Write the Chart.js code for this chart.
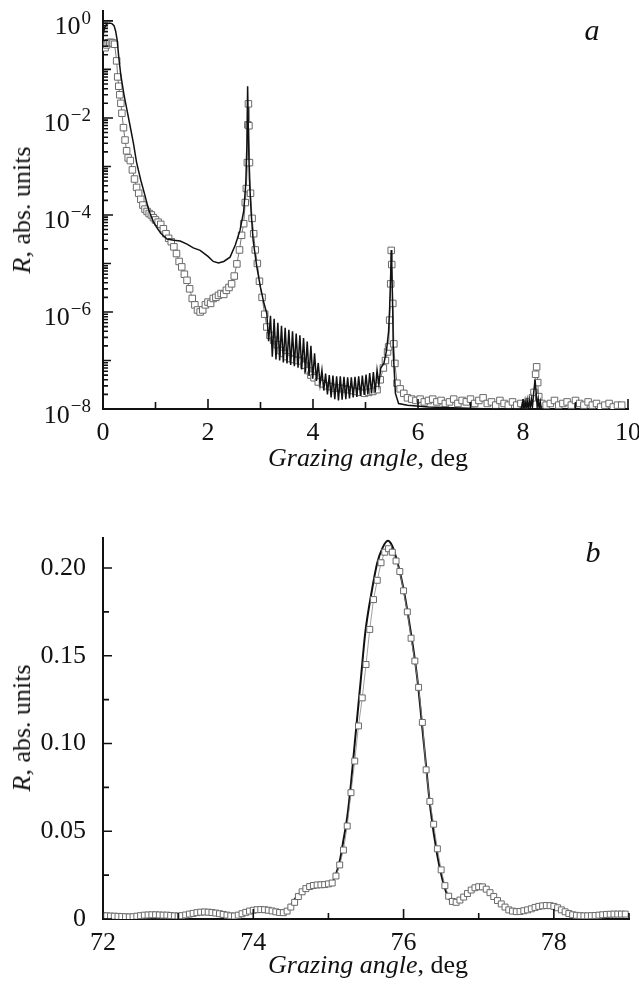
<!DOCTYPE html>
<html>
<head>
<meta charset="utf-8">
<script src="https://cdn.jsdelivr.net/npm/chart.js@4.4.0/dist/chart.umd.min.js"></script>
<style>
  html, body { margin: 0; padding: 0; background: #fff; }
  body { width: 639px; height: 984px; position: relative; overflow: hidden;
         font-family: "Liberation Serif", "DejaVu Serif", serif; color: #111; }
  canvas { position: absolute; left: 0; }
  #chartA { top: 0; }
  #chartB { top: 500px; }
  .xt { position: absolute; left: 268px; font-size: 26px; line-height: 26px; white-space: nowrap; }
  .yt { position: absolute; font-size: 26px; line-height: 26px; white-space: nowrap;
        transform: translate(-50%, -50%) rotate(-90deg); }
  .tag { position: absolute; font-size: 30px; line-height: 30px; font-style: italic;
         transform: translate(-50%, -50%); }
</style>
</head>
<body>
<canvas id="chartA" width="639" height="480"></canvas>
<canvas id="chartB" width="639" height="484"></canvas>

<div class="yt" style="left:22px; top:210px;"><i>R</i>, abs. units</div>
<div class="xt" style="top:445px;"><i>Grazing angle</i>, deg</div>
<div class="tag" style="left:592px; top:30px;">a</div>

<div class="yt" style="left:22px; top:728px;"><i>R</i>, abs. units</div>
<div class="xt" style="top:952px;"><i>Grazing angle</i>, deg</div>
<div class="tag" style="left:593px; top:552px;">b</div>

<script>
// ─── Panel a: experiment (squares) ───
const expAAngle = [
  0.04, 0.07, 0.10, 0.13, 0.16, 0.19, 0.22, 0.26, 0.28, 0.30,
  0.32, 0.34, 0.36, 0.39, 0.42, 0.45, 0.48, 0.52, 0.56, 0.60,
  0.64, 0.68, 0.72, 0.76, 0.80, 0.84, 0.88, 0.92, 0.96, 1.00,
  1.05, 1.10, 1.15, 1.20, 1.25, 1.30, 1.35, 1.40, 1.45, 1.50,
  1.55, 1.60, 1.65, 1.70, 1.75, 1.80, 1.85, 1.90, 1.95, 2.00,
  2.05, 2.10, 2.15, 2.20, 2.25, 2.30, 2.35, 2.40, 2.45, 2.50,
  2.55, 2.60, 2.64, 2.68, 2.71, 2.73, 2.75, 2.76, 2.77, 2.78,
  2.79, 2.81, 2.84, 2.87, 2.90, 2.94, 2.98, 3.03, 3.08, 3.12,
  3.18, 3.25, 3.32, 3.38, 3.44, 3.50, 3.56, 3.62, 3.69, 3.76,
  3.83, 3.90, 3.96, 4.02, 4.10, 4.18, 4.26, 4.34, 4.42, 4.50,
  4.58, 4.66, 4.74, 4.82, 4.90, 4.98, 5.06, 5.14, 5.22, 5.28,
  5.34, 5.38, 5.42, 5.44, 5.46, 5.48, 5.49, 5.50, 5.52, 5.54,
  5.56, 5.60, 5.66, 5.73, 5.80, 5.88, 5.96, 6.04, 6.12, 6.20,
  6.28, 6.36, 6.44, 6.52, 6.60, 6.68, 6.76, 6.84, 6.92, 7.00,
  7.08, 7.16, 7.24, 7.32, 7.40, 7.48, 7.56, 7.64, 7.72, 7.80,
  7.88, 7.96, 8.04, 8.12, 8.18, 8.21, 8.24, 8.26, 8.28, 8.30,
  8.36, 8.44, 8.52, 8.60, 8.68, 8.76, 8.84, 8.92, 9.00, 9.08,
  9.16, 9.24, 9.32, 9.40, 9.48, 9.56, 9.64, 9.72, 9.80, 9.88
];
const expAR = [
  0.28, 0.32, 0.35, 0.36, 0.36, 0.35, 0.33, 0.15, 0.07, 0.045,
  0.03, 0.02, 0.0125, 0.0063, 0.0035, 0.0021, 0.0015, 0.00132, 0.00085, 0.00055,
  3.7e-4, 2.8e-4, 2.1e-4, 1.6e-4, 1.32e-4, 1.18e-4, 1.07e-4, 1.0e-4, 8.8e-5, 7.9e-5,
  7.1e-5, 6.4e-5, 5.2e-5, 4.1e-5, 3.3e-5, 2.8e-5, 2.2e-5, 1.6e-5, 1.1e-5, 8.5e-6,
  6.0e-6, 4.5e-6, 3.0e-6, 1.9e-6, 1.4e-6, 1.1e-6, 1.0e-6, 1.1e-6, 1.4e-6, 1.6e-6,
  1.5e-6, 1.9e-6, 2.0e-6, 2.2e-6, 2.4e-6, 2.3e-6, 2.8e-6, 3.2e-6, 3.8e-6, 5.5e-6,
  9.8e-6, 1.9e-5, 3.8e-5, 6.6e-5, 1.8e-4, 3.5e-4, 1.2e-3, 7.2e-3, 1.95e-2, 6.9e-3,
  1.2e-3, 2.8e-4, 8.5e-5, 4.1e-5, 1.9e-5, 1.0e-5, 4.3e-6, 2.0e-6, 9.0e-7, 4.9e-7,
  3.3e-7, 2.6e-7, 2.1e-7, 1.6e-7, 1.4e-7, 1.2e-7, 1.1e-7, 1.05e-7, 1.0e-7, 9.8e-8,
  8.0e-8, 6.2e-8, 5.0e-8, 4.4e-8, 3.6e-8, 3.3e-8, 3.0e-8, 2.9e-8, 2.7e-8, 2.7e-8,
  2.6e-8, 2.5e-8, 2.4e-8, 2.3e-8, 2.2e-8, 2.1e-8, 2.2e-8, 2.3e-8, 2.5e-8, 4.0e-8,
  7.0e-8, 1.0e-7, 1.5e-7, 1.9e-7, 6.8e-7, 3.8e-6, 1.86e-5, 9.5e-6, 1.5e-6, 2.2e-7,
  8.7e-8, 3.4e-8, 2.6e-8, 2.1e-8, 1.7e-8, 1.6e-8, 1.5e-8, 1.6e-8, 1.4e-8, 1.5e-8,
  1.6e-8, 1.4e-8, 1.5e-8, 1.3e-8, 1.4e-8, 1.6e-8, 1.3e-8, 1.5e-8, 1.4e-8, 1.6e-8,
  1.3e-8, 1.5e-8, 1.7e-8, 1.3e-8, 1.4e-8, 1.2e-8, 1.5e-8, 1.3e-8, 1.2e-8, 1.4e-8,
  1.2e-8, 1.3e-8, 1.2e-8, 1.4e-8, 1.7e-8, 2.2e-8, 5.2e-8, 7.4e-8, 3.5e-8, 1.8e-8,
  1.3e-8, 1.2e-8, 1.3e-8, 1.5e-8, 1.2e-8, 1.3e-8, 1.4e-8, 1.2e-8, 1.5e-8, 1.3e-8,
  1.2e-8, 1.4e-8, 1.2e-8, 1.3e-8, 1.1e-8, 1.2e-8, 1.3e-8, 1.1e-8, 1.2e-8, 1.2e-8
];

// ─── Panel a: calculation (solid line) ───
const thAAngle = [
  0.00, 0.03, 0.07, 0.12, 0.17, 0.21, 0.24, 0.27, 0.30, 0.34,
  0.40, 0.46, 0.52, 0.58, 0.64, 0.72, 0.80, 0.86, 0.90, 0.96,
  1.02, 1.10, 1.22, 1.35, 1.47, 1.60, 1.72, 1.85, 2.00, 2.10,
  2.20, 2.30, 2.42, 2.52, 2.61, 2.68, 2.72, 2.74, 2.755, 2.77,
  2.79, 2.82, 2.86, 2.93, 3.00, 3.06,
  3.120, 3.155, 3.190, 3.225, 3.260, 3.295, 3.330, 3.365, 3.400, 3.435,
  3.470, 3.505, 3.540, 3.575, 3.610, 3.645, 3.680, 3.715, 3.750, 3.785,
  3.820, 3.855, 3.890, 3.925, 3.960, 3.995, 4.030, 4.065, 4.100, 4.135,
  4.170, 4.205, 4.240, 4.275, 4.310, 4.345, 4.380, 4.415, 4.450, 4.485,
  4.520, 4.555, 4.590, 4.625, 4.660, 4.695, 4.730, 4.765, 4.800, 4.835,
  4.870, 4.905, 4.940, 4.975, 5.010, 5.045, 5.080, 5.115, 5.150, 5.185,
  5.220, 5.255,
  5.29, 5.35, 5.40, 5.44, 5.46, 5.48, 5.49, 5.50, 5.52, 5.53,
  5.57, 5.63, 5.80, 6.20, 6.80, 7.40, 7.96,
  8.00, 8.02, 8.04, 8.06, 8.08, 8.10, 8.12, 8.14, 8.16, 8.18,
  8.20, 8.23, 8.25, 8.27, 8.29, 8.31, 8.33, 8.35,
  8.40, 9.00, 10.00
];
const thAR = [
  0.50, 0.72, 0.86, 0.90, 0.88, 0.80, 0.62, 0.40, 0.18, 0.075,
  0.030, 0.014, 0.0065, 0.0030, 0.0012, 5.2e-4, 2.5e-4, 1.4e-4, 1.05e-4, 7.2e-5,
  5.6e-5, 4.2e-5, 3.2e-5, 3.0e-5, 2.9e-5, 2.5e-5, 2.1e-5, 1.86e-5, 1.4e-5, 1.1e-5,
  1.02e-5, 1.1e-5, 1.35e-5, 2.4e-5, 4.8e-5, 1.2e-4, 4.5e-4, 2.5e-3, 4.5e-2, 4.0e-3,
  5.5e-4, 1.2e-4, 3.0e-5, 8.5e-6, 3.2e-6, 1.6e-6,
  9.3e-7, 2.5e-7, 8.3e-7, 1.2e-7, 7.2e-7, 1.05e-7, 6.0e-7, 1.0e-7, 5.2e-7, 9.1e-8,
  4.7e-7, 8.7e-8, 4.3e-7, 8.1e-8, 4.0e-7, 7.6e-8, 3.6e-7, 7.1e-8, 3.3e-7, 6.5e-8,
  2.9e-7, 5.6e-8, 2.45e-7, 4.8e-8, 2.0e-7, 4.2e-8, 1.4e-7, 3.8e-8, 8.9e-8, 3.2e-8,
  6.3e-8, 2.4e-8, 5.4e-8, 2.0e-8, 5.0e-8, 1.74e-8, 4.9e-8, 1.6e-8, 4.7e-8, 1.5e-8,
  4.7e-8, 1.55e-8, 4.6e-8, 1.6e-8, 4.5e-8, 1.66e-8, 4.5e-8, 1.74e-8, 4.6e-8, 1.78e-8,
  4.7e-8, 1.86e-8, 4.9e-8, 1.95e-8, 5.1e-8, 2.0e-8, 5.5e-8, 2.1e-8, 5.8e-8, 2.2e-8,
  6.3e-8, 3.2e-8,
  7.0e-8, 8.7e-8, 1.6e-7, 4.0e-7, 1.2e-6, 6.0e-6, 1.9e-5, 1.0e-5, 9.0e-7, 1.4e-7,
  2.1e-8, 1.3e-8, 1.2e-8, 1.1e-8, 1.05e-8, 1.0e-8, 1.0e-8,
  1.4e-8, 1.0e-8, 1.45e-8, 1.0e-8, 1.5e-8, 1.0e-8, 1.5e-8, 1.05e-8, 1.6e-8, 1.1e-8,
  2.0e-8, 4.0e-8, 2.2e-8, 1.1e-8, 1.6e-8, 1.0e-8, 1.4e-8, 1.0e-8,
  9.8e-9, 9.5e-9, 9.3e-9
];

// ─── Panel b: experiment (squares) ───
const expBAngle = [
  72.00, 72.05, 72.10, 72.15, 72.20, 72.25, 72.30, 72.35, 72.40, 72.45,
  72.50, 72.55, 72.60, 72.65, 72.70, 72.75, 72.80, 72.85, 72.90, 72.95,
  73.00, 73.05, 73.10, 73.15, 73.20, 73.25, 73.30, 73.35, 73.40, 73.45,
  73.50, 73.55, 73.60, 73.65, 73.70, 73.75, 73.80, 73.85, 73.90, 73.95,
  74.00, 74.05, 74.10, 74.15, 74.20, 74.25, 74.30, 74.35, 74.40, 74.45,
  74.50, 74.55, 74.60, 74.65, 74.70, 74.75, 74.80, 74.85, 74.90, 74.95,
  75.00, 75.05, 75.10, 75.15, 75.20, 75.25, 75.30, 75.35, 75.40, 75.45,
  75.50, 75.55, 75.60, 75.65, 75.70, 75.75, 75.80, 75.85, 75.90, 75.95,
  76.00, 76.05, 76.10, 76.15, 76.20, 76.25, 76.30, 76.35, 76.40, 76.45,
  76.50, 76.55, 76.60, 76.65, 76.70, 76.75, 76.80, 76.85, 76.90, 76.95,
  77.00, 77.05, 77.10, 77.15, 77.20, 77.25, 77.30, 77.35, 77.40, 77.45,
  77.50, 77.55, 77.60, 77.65, 77.70, 77.75, 77.80, 77.85, 77.90, 77.95,
  78.00, 78.05, 78.10, 78.15, 78.20, 78.25, 78.30, 78.35, 78.40, 78.45,
  78.50, 78.55, 78.60, 78.65, 78.70, 78.75, 78.80, 78.85, 78.90, 78.95
];
const expBR = [
  0.0019, 0.0018, 0.0017, 0.0016, 0.0015, 0.0014, 0.0013, 0.0012, 0.0013, 0.0016,
  0.0019, 0.0022, 0.0023, 0.0024, 0.0024, 0.0023, 0.0022, 0.0022, 0.0020, 0.0018,
  0.0017, 0.0019, 0.0023, 0.0028, 0.0032, 0.0036, 0.0039, 0.0040, 0.0039, 0.0037,
  0.0034, 0.0030, 0.0026, 0.0022, 0.0018, 0.0017, 0.0022, 0.0030, 0.0038, 0.0045,
  0.0050, 0.0053, 0.0054, 0.0053, 0.0050, 0.0046, 0.0041, 0.0037, 0.0036, 0.0045,
  0.0068, 0.0095, 0.0128, 0.0155, 0.0173, 0.0185, 0.0191, 0.0194, 0.0195, 0.0196,
  0.0200, 0.0205, 0.0245, 0.0308, 0.0393, 0.0530, 0.0720, 0.0900, 0.1100, 0.1260,
  0.1450, 0.1650, 0.1820, 0.1930, 0.2030, 0.2090, 0.2110, 0.2090, 0.2040, 0.1980,
  0.1870, 0.1750, 0.1600, 0.1470, 0.1320, 0.1120, 0.0850, 0.0670, 0.0540, 0.0400,
  0.0280, 0.0190, 0.0130, 0.0100, 0.0095, 0.0108, 0.0125, 0.0145, 0.0165, 0.0178,
  0.0184, 0.0183, 0.0170, 0.0150, 0.0128, 0.0105, 0.0086, 0.0068, 0.0052, 0.0045,
  0.0042, 0.0043, 0.0047, 0.0052, 0.0058, 0.0066, 0.0072, 0.0075, 0.0077, 0.0076,
  0.0072, 0.0064, 0.0052, 0.0041, 0.0031, 0.0024, 0.0021, 0.0019, 0.0018, 0.0018,
  0.0019, 0.0020, 0.0022, 0.0024, 0.0026, 0.0027, 0.0028, 0.0028, 0.0028, 0.0028
];

// ─── Panel b: calculation (solid line) ───
const thBAngle = [
  72.0, 72.5, 72.9, 73.4, 73.75, 74.1, 74.4, 74.6, 74.8, 74.95,
  75.05, 75.15, 75.2, 75.25, 75.3, 75.35, 75.43, 75.49, 75.58, 75.65,
  75.72, 75.79, 75.85, 75.92, 76.0, 76.09, 76.18, 76.27, 76.36, 76.45,
  76.52, 76.6, 76.68, 76.8, 76.95, 77.03, 77.16, 77.3, 77.47, 77.65,
  77.9, 78.1, 78.3, 78.55, 78.8, 79.0
];
const thBR = [
  0.0015, 0.0020, 0.0017, 0.0036, 0.0015, 0.0050, 0.0035, 0.0140, 0.0190, 0.0195,
  0.0210, 0.0330, 0.0450, 0.0580, 0.0770, 0.1000, 0.1360, 0.1630, 0.1876, 0.2030,
  0.2115, 0.2155, 0.2125, 0.2030, 0.1880, 0.1650, 0.1380, 0.1000, 0.0620, 0.0360,
  0.0220, 0.0120, 0.0085, 0.0120, 0.0170, 0.0180, 0.0145, 0.0085, 0.0040, 0.0050,
  0.0074, 0.0048, 0.0020, 0.0017, 0.0025, 0.0026
];

// ─── Axis ticks ───
const aLabelExps = [0, -2, -4, -6, -8];
const aDecades = [-8, -7, -6, -5, -4, -3, -2, -1, 0];

const FONT = '"Liberation Serif", "DejaVu Serif", serif';
const pts = (xs, ys) => xs.map((x, i) => ({ x: x, y: ys[i] }));

// tick marks pointing into the plot
function insideTicks(xLen, yLen) {
  return {
    id: 'insideTicks',
    afterDatasetsDraw(chart) {
      const { ctx, chartArea: area, scales } = chart;
      ctx.save();
      ctx.strokeStyle = '#111';
      ctx.lineWidth = 1.6;
      ctx.beginPath();
      scales.x.ticks.forEach(t => {
        const px = scales.x.getPixelForValue(t.value);
        const len = xLen(t.value);
        if (!len) return;
        ctx.moveTo(px, area.bottom);
        ctx.lineTo(px, area.bottom - len);
      });
      scales.y.ticks.forEach(t => {
        const py = scales.y.getPixelForValue(t.value);
        const len = yLen(t.value);
        if (!len) return;
        ctx.moveTo(area.left, py);
        ctx.lineTo(area.left + len, py);
      });
      ctx.stroke();
      ctx.restore();
    }
  };
}

// 10^n labels for the log axis
const powerLabels = {
  id: 'powerLabels',
  afterDraw(chart) {
    const { ctx, scales: { y } } = chart;
    ctx.save();
    ctx.fillStyle = '#111';
    ctx.textAlign = 'left';
    ctx.textBaseline = 'alphabetic';
    aLabelExps.forEach(e => {
      const py = y.getPixelForValue(Math.pow(10, e));
      const sup = e === 0 ? '0' : '\u2212' + (-e);
      ctx.font = '19px ' + FONT;
      const sw = ctx.measureText(sup).width;
      ctx.font = '26px ' + FONT;
      const bw = ctx.measureText('10').width;
      const x0 = 91 - sw - bw - 1;
      ctx.fillText('10', x0, py + 13.5);
      ctx.font = '19px ' + FONT;
      ctx.fillText(sup, x0 + bw + 1, py + 3);
    });
    ctx.restore();
  }
};

const tickFont = { family: FONT, size: 26 };
const axisBorder = { display: true, color: '#111', width: 2 };

// ─── Panel a ───
new Chart(document.getElementById('chartA'), {
  type: 'scatter',
  data: {
    datasets: [{
      label: 'calculation',
      data: pts(thAAngle, thAR),
      showLine: true,
      borderColor: '#111',
      borderWidth: 1.5,
      pointRadius: 0,
      tension: 0
    }, {
      label: 'experiment',
      data: pts(expAAngle, expAR),
      showLine: true,
      borderColor: '#555',
      borderWidth: 0.8,
      pointStyle: 'rect',
      pointRadius: 4.6,
      pointBorderWidth: 1,
      pointBorderColor: '#6a6a6a',
      pointBackgroundColor: '#fff'
    }]
  },
  options: {
    responsive: false,
    animation: false,
    devicePixelRatio: 1,
    layout: { padding: { top: 11, right: 11, left: 0, bottom: 0 } },
    plugins: { legend: { display: false }, tooltip: { enabled: false } },
    scales: {
      x: {
        type: 'linear', min: 0, max: 10,
        grid: { display: false },
        border: axisBorder,
        ticks: {
          stepSize: 1, autoSkip: false, maxRotation: 0, padding: 1,
          color: '#111', font: tickFont,
          callback: v => (v % 2 === 0 ? String(v) : '')
        },
        afterFit: s => { s.height = 71; s.paddingLeft = 0; s.paddingRight = 0; }
      },
      y: {
        type: 'logarithmic', min: 1e-8, max: 1.6,
        grid: { display: false },
        border: axisBorder,
        ticks: { display: false },
        afterBuildTicks: s => {
          const list = [];
          aDecades.forEach(e => {
            for (let m = 1; m <= 9; m++) {
              const v = m * Math.pow(10, e);
              if (v <= 1.6) list.push({ value: v });
            }
          });
          s.ticks = list;
        },
        afterFit: s => { s.width = 103; s.paddingTop = 0; s.paddingBottom = 0; }
      }
    }
  },
  plugins: [
    insideTicks(
      v => (v % 2 === 0 ? 10 : 7),
      v => {
        const e = Math.round(Math.log10(v));
        if (Math.abs(Math.log10(v) - e) < 1e-6) return e % 2 === 0 ? 10 : 8;
        return 5;
      }
    ),
    powerLabels
  ]
});

// ─── Panel b ───
new Chart(document.getElementById('chartB'), {
  type: 'scatter',
  data: {
    datasets: [{
      label: 'experiment',
      data: pts(expBAngle, expBR),
      showLine: true,
      borderColor: '#888',
      borderWidth: 0.8,
      pointStyle: 'rect',
      pointRadius: 4.2,
      pointBorderWidth: 1,
      pointBorderColor: '#6a6a6a',
      pointBackgroundColor: '#fff'
    }, {
      label: 'calculation',
      data: pts(thBAngle, thBR),
      showLine: true,
      borderColor: '#111',
      borderWidth: 2,
      pointRadius: 0,
      cubicInterpolationMode: 'monotone'
    }]
  },
  options: {
    responsive: false,
    animation: false,
    devicePixelRatio: 1,
    layout: { padding: { top: 38, right: 10, left: 0, bottom: 0 } },
    plugins: { legend: { display: false }, tooltip: { enabled: false } },
    scales: {
      x: {
        type: 'linear', min: 72, max: 79,
        grid: { display: false },
        border: axisBorder,
        ticks: {
          stepSize: 1, autoSkip: false, maxRotation: 0, padding: 1,
          color: '#111', font: tickFont,
          callback: v => (v % 2 === 0 ? String(v) : '')
        },
        afterFit: s => { s.height = 65; s.paddingLeft = 0; s.paddingRight = 0; }
      },
      y: {
        type: 'linear', min: 0, max: 0.2171,
        grid: { display: false },
        border: axisBorder,
        ticks: {
          stepSize: 0.025, includeBounds: false, autoSkip: false, padding: 9,
          color: '#111', font: tickFont,
          callback: v => {
            if (Math.round(v * 1000) % 50 !== 0) return '';
            return v === 0 ? '0' : v.toFixed(2);
          }
        },
        afterFit: s => { s.width = 103; s.paddingTop = 0; s.paddingBottom = 0; }
      }
    }
  },
  plugins: [
    insideTicks(
      v => (v % 2 === 0 ? 10 : 6),
      v => (Math.round(v * 1000) % 50 === 0 ? 9 : 6)
    )
  ]
});
</script>
</body>
</html>
